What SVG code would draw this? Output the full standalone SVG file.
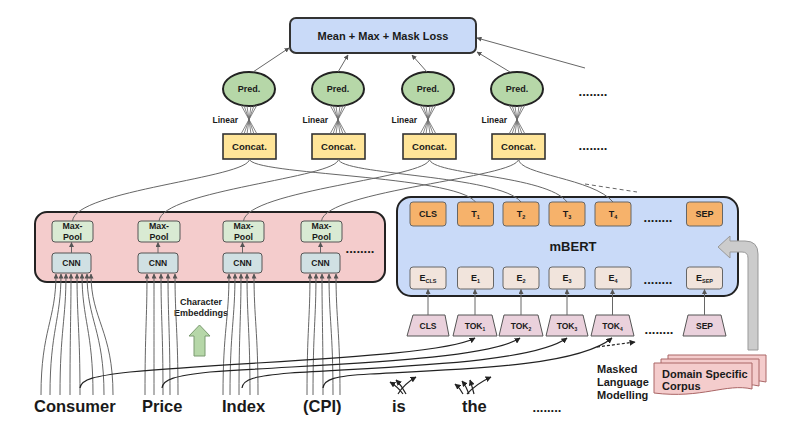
<svg xmlns="http://www.w3.org/2000/svg" width="800" height="431" viewBox="0 0 800 431">
<style>
text{font-family:"Liberation Sans",Arial,sans-serif;font-weight:bold;fill:#1a1a1a}
.c{text-anchor:middle}
.ln{fill:none;stroke:#666;stroke-width:1}
.lk{fill:none;stroke:#222;stroke-width:1.2}
.x{stroke:#666;stroke-width:0.8}
.loss{fill:#c9daf8;stroke:#333;stroke-width:2}
.pred{fill:#b6d7a8;stroke:#222;stroke-width:2}
.cat{fill:#ffe599;stroke:#333;stroke-width:1.6}
.pink{fill:#f4cccc;stroke:#222;stroke-width:2}
.cnn{fill:#d0e0e3;stroke:#555;stroke-width:1}
.mp{fill:#d9ead3;stroke:#555;stroke-width:1}
.bert{fill:#c9daf8;stroke:#222;stroke-width:2}
.t{fill:#f6b26b;stroke:#666;stroke-width:1}
.e{fill:#f1e4dc;stroke:#666;stroke-width:1}
.tok{fill:#ead1dc;stroke:#555;stroke-width:1}
.doc{fill:#f4cccc;stroke:#a66;stroke-width:1}
</style>
<defs>
<marker id="a" viewBox="0 0 10 10" refX="9" refY="5" markerWidth="5" markerHeight="5" orient="auto"><path d="M0,0 L10,5 L0,10 z" fill="#555"/></marker>
<marker id="k" viewBox="0 0 10 10" refX="9" refY="5" markerWidth="5" markerHeight="5" orient="auto"><path d="M0,0 L10,5 L0,10 z" fill="#222"/></marker>
</defs>

<g id="loss"><rect class="loss" x="290" y="18" width="186" height="35" rx="6"/><text class="c" x="383" y="39.5" font-size="11">Mean + Max + Mask Loss</text></g>

<g id="preds">
<g id="pred1"><ellipse class="pred" cx="249" cy="89" rx="26" ry="17"/><text class="c" x="249" y="92" font-size="9">Pred.</text></g>
<g id="pred2"><ellipse class="pred" cx="338" cy="89" rx="26" ry="17"/><text class="c" x="338" y="92" font-size="9">Pred.</text></g>
<g id="pred3"><ellipse class="pred" cx="428" cy="89" rx="26" ry="17"/><text class="c" x="428" y="92" font-size="9">Pred.</text></g>
<g id="pred4"><ellipse class="pred" cx="517" cy="89" rx="26" ry="17"/><text class="c" x="517" y="92" font-size="9">Pred.</text></g>
<text class="c" x="593" y="96" font-size="13">........</text>
</g>

<g id="concats">
<g id="concat1"><rect class="cat" x="223" y="134" width="53" height="25"/><text class="c" x="249.5" y="150" font-size="9.5">Concat.</text></g>
<g id="concat2"><rect class="cat" x="312" y="134" width="53" height="25"/><text class="c" x="338.5" y="150" font-size="9.5">Concat.</text></g>
<g id="concat3"><rect class="cat" x="403" y="134" width="53" height="25"/><text class="c" x="429.5" y="150" font-size="9.5">Concat.</text></g>
<g id="concat4"><rect class="cat" x="492" y="134" width="53" height="25"/><text class="c" x="518.5" y="150" font-size="9.5">Concat.</text></g>
<text class="c" x="593" y="150" font-size="13">........</text>
</g>

<g id="linear-labels">
<text x="238" y="123" text-anchor="end" font-size="8.5">Linear</text>
<text x="328" y="123" text-anchor="end" font-size="8.5">Linear</text>
<text x="417" y="123" text-anchor="end" font-size="8.5">Linear</text>
<text x="507" y="123" text-anchor="end" font-size="8.5">Linear</text>
</g>

<g id="char-cnn">
<rect class="pink" x="35" y="212" width="350" height="70" rx="12"/>
<g id="maxpool1"><rect class="mp" x="52" y="221" width="41" height="21" rx="3"/><text class="c" x="72.5" y="229" font-size="8.8">Max-</text><text class="c" x="72.5" y="239.5" font-size="8.8">Pool</text></g>
<g id="maxpool2"><rect class="mp" x="138" y="221" width="42" height="21" rx="3"/><text class="c" x="159" y="229" font-size="8.8">Max-</text><text class="c" x="159" y="239.5" font-size="8.8">Pool</text></g>
<g id="maxpool3"><rect class="mp" x="223" y="221" width="41" height="21" rx="3"/><text class="c" x="243.5" y="229" font-size="8.8">Max-</text><text class="c" x="243.5" y="239.5" font-size="8.8">Pool</text></g>
<g id="maxpool4"><rect class="mp" x="301" y="221" width="41" height="21" rx="3"/><text class="c" x="321.5" y="229" font-size="8.8">Max-</text><text class="c" x="321.5" y="239.5" font-size="8.8">Pool</text></g>
<g id="cnn1"><rect class="cnn" x="52" y="253" width="39" height="20" rx="3"/><text class="c" x="71.5" y="266" font-size="8.5">CNN</text></g>
<g id="cnn2"><rect class="cnn" x="138" y="253" width="40" height="20" rx="3"/><text class="c" x="158" y="266" font-size="8.5">CNN</text></g>
<g id="cnn3"><rect class="cnn" x="223" y="253" width="39" height="20" rx="3"/><text class="c" x="242.5" y="266" font-size="8.5">CNN</text></g>
<g id="cnn4"><rect class="cnn" x="301" y="253" width="39" height="20" rx="3"/><text class="c" x="320.5" y="266" font-size="8.5">CNN</text></g>
<text class="c" x="360" y="253" font-size="13">........</text>
</g>

<g id="mbert">
<rect class="bert" x="397" y="197" width="341" height="99" rx="14"/>
<text class="c" x="573" y="251" font-size="13">mBERT</text>
<g id="t-cls"><rect class="t" x="410" y="202" width="36" height="24" rx="3"/><text class="c" x="428" y="217" font-size="9">CLS</text></g>
<g id="t1"><rect class="t" x="457.5" y="202" width="36" height="24" rx="3"/><text class="c" x="475.5" y="217" font-size="9">T<tspan font-size="5.5" dy="2">1</tspan></text></g>
<g id="t2"><rect class="t" x="503" y="202" width="36" height="24" rx="3"/><text class="c" x="521" y="217" font-size="9">T<tspan font-size="5.5" dy="2">2</tspan></text></g>
<g id="t3"><rect class="t" x="549" y="202" width="36" height="24" rx="3"/><text class="c" x="567" y="217" font-size="9">T<tspan font-size="5.5" dy="2">3</tspan></text></g>
<g id="t4"><rect class="t" x="595" y="202" width="36" height="24" rx="3"/><text class="c" x="613" y="217" font-size="9">T<tspan font-size="5.5" dy="2">4</tspan></text></g>
<text class="c" x="658" y="222" font-size="13">........</text>
<g id="t-sep"><rect class="t" x="686.5" y="202" width="36" height="24" rx="3"/><text class="c" x="704.5" y="217" font-size="9">SEP</text></g>
<g id="e-cls"><rect class="e" x="410" y="267" width="36" height="22" rx="3"/><text class="c" x="428" y="281" font-size="9">E<tspan font-size="5.5" dy="2">CLS</tspan></text></g>
<g id="e1"><rect class="e" x="457.5" y="267" width="36" height="22" rx="3"/><text class="c" x="475.5" y="281" font-size="9">E<tspan font-size="5.5" dy="2">1</tspan></text></g>
<g id="e2"><rect class="e" x="503" y="267" width="36" height="22" rx="3"/><text class="c" x="521" y="281" font-size="9">E<tspan font-size="5.5" dy="2">2</tspan></text></g>
<g id="e3"><rect class="e" x="549" y="267" width="36" height="22" rx="3"/><text class="c" x="567" y="281" font-size="9">E<tspan font-size="5.5" dy="2">3</tspan></text></g>
<g id="e4"><rect class="e" x="595" y="267" width="36" height="22" rx="3"/><text class="c" x="613" y="281" font-size="9">E<tspan font-size="5.5" dy="2">4</tspan></text></g>
<text class="c" x="658" y="284" font-size="13">........</text>
<g id="e-sep"><rect class="e" x="686.5" y="267" width="36" height="22" rx="3"/><text class="c" x="704.5" y="281" font-size="9">E<tspan font-size="5.5" dy="2">SEP</tspan></text></g>
</g>

<g id="tokens">
<g id="tok-cls"><path class="tok" d="M413,315 H445 L449,336 H407 Z"/><text class="c" x="428" y="329" font-size="8.5">CLS</text></g>
<g id="tok1"><path class="tok" d="M458,315 H492 L497,336 H453 Z"/><text class="c" x="475" y="329" font-size="8.5">TOK<tspan font-size="5" dy="2">1</tspan></text></g>
<g id="tok2"><path class="tok" d="M504,315 H538 L543,336 H499 Z"/><text class="c" x="521" y="329" font-size="8.5">TOK<tspan font-size="5" dy="2">2</tspan></text></g>
<g id="tok3"><path class="tok" d="M551,315 H583 L588,336 H546 Z"/><text class="c" x="567" y="329" font-size="8.5">TOK<tspan font-size="5" dy="2">3</tspan></text></g>
<g id="tok4"><path class="tok" d="M596,315 H629 L634,336 H591 Z"/><text class="c" x="612.5" y="329" font-size="8.5">TOK<tspan font-size="5" dy="2">4</tspan></text></g>
<text class="c" x="659" y="334" font-size="13">........</text>
<g id="tok-sep"><path class="tok" d="M688,315 H721 L726,336 H683 Z"/><text class="c" x="704.5" y="329" font-size="8.5">SEP</text></g>
</g>

<g id="corpus">
<path class="doc" d="M668,355 H766 V382 C750,378 735,386 720,384 L720,368 H668 Z"/>
<path class="doc" d="M661,359 H759 V386 C745,382 730,390 715,388 L715,372 H661 Z"/>
<path class="doc" d="M654,363 H752 V389 C726,383 702,399 654,393 Z"/>
<text x="662" y="378" font-size="11">Domain Specific</text>
<text x="662" y="390" font-size="11">Corpus</text>
</g>

<g id="labels">
<text x="597" y="373" font-size="11">Masked</text>
<text x="597" y="386" font-size="11">Language</text>
<text x="597" y="399" font-size="11">Modelling</text>
<text class="c" x="201" y="305" font-size="9">Character</text>
<text class="c" x="201" y="316" font-size="9">Embeddings</text>
<path d="M194,356 V336 H189 L199.5,325 L210,336 H205 V356 Z" fill="#b6d7a8" stroke="#7a9a70" stroke-width="1"/>
<path d="M748,350 V258 Q748,252 742,252 H730 V258 L718,247 L730,236 V241 H745 Q758,241 758,254 V350 Z" fill="#cccccc" stroke="#999" stroke-width="1"/>
</g>

<g id="words">
<text x="34" y="412" font-size="16.5">Consumer</text>
<text x="142" y="412" font-size="16.5">Price</text>
<text x="222" y="412" font-size="16.5">Index</text>
<text x="303" y="412" font-size="16.5">(CPI)</text>
<text x="392" y="412" font-size="16.5">is</text>
<text x="462" y="412" font-size="16.5">the</text>
<text class="c" x="547" y="412" font-size="13">........</text>
</g>

<g id="connectors">
<path class="ln" marker-end="url(#a)" d="M253,72 L289,48"/>
<path class="ln" marker-end="url(#a)" d="M338,72 L348,55"/>
<path class="ln" marker-end="url(#a)" d="M427,72 L412,55"/>
<path class="ln" marker-end="url(#a)" d="M510,72 L477,52"/>
<path class="ln" marker-end="url(#a)" d="M585,68 L477,38"/>
<g class="x">
<path d="M241,105 L257,134 M244,105.5 L254,134 M247,106 L251,134 M251,106 L247,134 M254,105.5 L244,134 M257,105 L241,134"/>
<path d="M330,105 L346,134 M333,105.5 L343,134 M336,106 L340,134 M340,106 L336,134 M343,105.5 L333,134 M346,105 L330,134"/>
<path d="M420,105 L436,134 M423,105.5 L433,134 M426,106 L430,134 M430,106 L426,134 M433,105.5 L423,134 M436,105 L420,134"/>
<path d="M509,105 L525,134 M512,105.5 L522,134 M515,106 L519,134 M519,106 L515,134 M522,105.5 L512,134 M525,105 L509,134"/>
</g>
<path class="ln" d="M249.5,159 C249.5,178 75,190 72.5,221"/>
<path class="ln" d="M338.5,159 C338.5,178 162,190 159,221"/>
<path class="ln" d="M429.5,159 C429.5,178 247,190 243.5,221"/>
<path class="ln" d="M518.5,159 C518.5,178 325,190 321.5,221"/>
<path class="ln" d="M249.5,159 C250,175 455,175 475.5,202"/>
<path class="ln" d="M338.5,159 C339,175 500,175 521,202"/>
<path class="ln" d="M429.5,159 C430,175 547,175 567,202"/>
<path class="ln" d="M518.5,159 C519,175 593,178 613,202"/>
<path class="ln" stroke-dasharray="4,3" d="M585,184 L637,192"/>
<path class="ln" marker-end="url(#a)" d="M71.5,253 V242.5"/>
<path class="ln" marker-end="url(#a)" d="M158,253 V242.5"/>
<path class="ln" marker-end="url(#a)" d="M242.5,253 V242.5"/>
<path class="ln" marker-end="url(#a)" d="M320.5,253 V242.5"/>
<path class="ln" marker-end="url(#a)" d="M428,315 V289.5"/>
<path class="ln" marker-end="url(#a)" d="M475,315 V289.5"/>
<path class="ln" marker-end="url(#a)" d="M521,315 V289.5"/>
<path class="ln" marker-end="url(#a)" d="M567,315 V289.5"/>
<path class="ln" marker-end="url(#a)" d="M612.5,315 V289.5"/>
<path class="ln" marker-end="url(#a)" d="M704.5,315 V289.5"/>
<g class="ln" marker-end="url(#a)">
<path d="M41,395 C41,330 56,320 56,274"/>
<path d="M50,395 C50,330 61,320 61,274"/>
<path d="M60,395 C60,330 66,320 66,274"/>
<path d="M70,395 C70,330 71,320 71,274"/>
<path d="M80,395 C80,330 77,320 77,274"/>
<path d="M93,395 C93,330 82,320 82,274"/>
<path d="M104,395 C104,330 87,320 87,274"/>
<path d="M113,395 C113,330 91,320 91,274"/>
<path d="M145,395 C145,330 147,320 147,274"/>
<path d="M154,395 C154,330 154,320 154,274"/>
<path d="M163,395 C163,330 161,320 161,274"/>
<path d="M170,395 C170,330 168,320 168,274"/>
<path d="M178,395 C178,330 175,320 175,274"/>
<path d="M223,395 C223,330 229,320 229,274"/>
<path d="M230,395 C230,330 235,320 235,274"/>
<path d="M239,395 C239,330 241,320 241,274"/>
<path d="M250,395 C250,330 247,320 247,274"/>
<path d="M258,395 C258,330 254,320 254,274"/>
<path d="M307,395 C307,330 310,320 310,274"/>
<path d="M313,395 C313,330 316,320 316,274"/>
<path d="M323,395 C323,330 322,320 322,274"/>
<path d="M333,395 C333,330 329,320 329,274"/>
<path d="M340,395 C340,330 336,320 336,274"/>
</g>
<g class="lk" marker-end="url(#k)">
<path d="M80,388 C81,379 95,376 130,372 C250,361 440,357 475,338"/>
<path d="M162,388 C163,379 175,376 210,372 C320,364 485,361 520,338"/>
<path d="M242,388 C243,379 255,376 290,373 C400,366 532,363 567,338"/>
<path d="M323,388 C324,379 335,376 370,374 C470,369 578,366 612,338"/>
<path stroke-dasharray="3,2" d="M597,347 L635,342"/>
</g>
<g class="lk" stroke-width="0.9" marker-end="url(#k)">
<path d="M403,394 Q398,387 390,382"/>
<path d="M406,394 Q402,386 396,380"/>
<path d="M398,394 Q404,384 416,377"/>
<path d="M463,394 Q460,388 455,384"/>
<path d="M469,394 Q466,386 462,381"/>
<path d="M474,394 Q472,386 470,380"/>
<path d="M467,394 Q476,384 491,377"/>
</g>
</g>
</svg>
